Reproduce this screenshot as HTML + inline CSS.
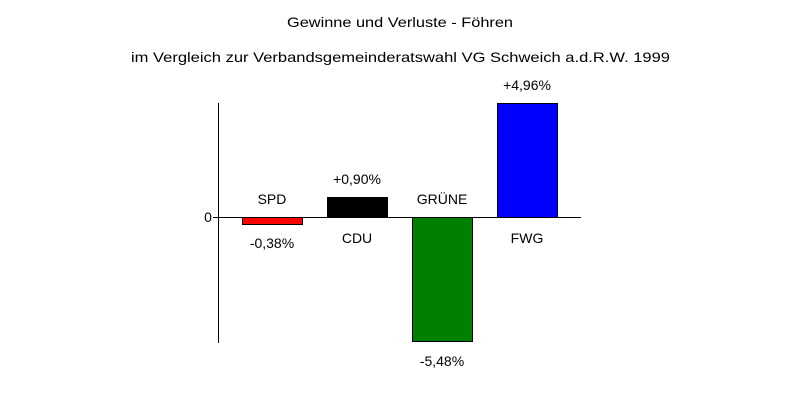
<!DOCTYPE html>
<html><head><meta charset="utf-8"><style>body{margin:0;background:#fff}</style></head><body>
<svg width="800" height="400" xmlns="http://www.w3.org/2000/svg" font-family="Liberation Sans, Arial, sans-serif" font-size="14" fill="#000">
<rect width="800" height="400" fill="#fff"/>
<text x="287" y="27" textLength="226" lengthAdjust="spacingAndGlyphs">Gewinne und Verluste - Föhren</text>
<text x="131" y="62" textLength="539" lengthAdjust="spacingAndGlyphs">im Vergleich zur Verbandsgemeinderatswahl VG Schweich a.d.R.W. 1999</text>
<line x1="218.5" y1="103" x2="218.5" y2="343" stroke="#000"/>
<line x1="213" y1="217.5" x2="581" y2="217.5" stroke="#000"/>
<text x="208" y="222" text-anchor="middle">0</text>
<rect x="242.5" y="217.5" width="60" height="7" fill="#f00" stroke="#000"/>
<rect x="327.5" y="197.5" width="60" height="20" fill="#000" stroke="#000"/>
<rect x="412.5" y="217.5" width="60" height="124" fill="#008000" stroke="#000"/>
<rect x="497.5" y="103.5" width="60" height="114" fill="#00f" stroke="#000"/>
<text x="272" y="204" text-anchor="middle">SPD</text>
<text x="272" y="248" text-anchor="middle">-0,38%</text>
<text x="357" y="184" text-anchor="middle">+0,90%</text>
<text x="357" y="243" text-anchor="middle">CDU</text>
<text x="442" y="204" text-anchor="middle">GRÜNE</text>
<text x="442" y="366" text-anchor="middle">-5,48%</text>
<text x="527" y="90" text-anchor="middle">+4,96%</text>
<text x="527" y="243" text-anchor="middle">FWG</text>
</svg>
</body></html>
